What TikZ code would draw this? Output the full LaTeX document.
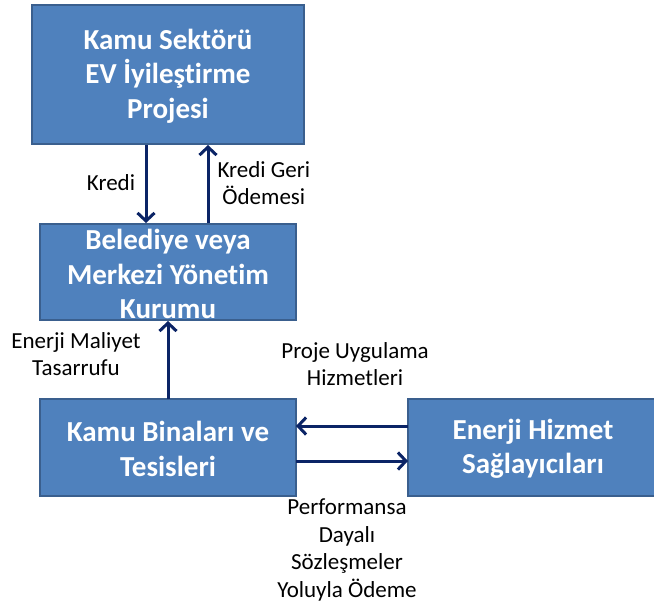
\documentclass[tikz,border=0pt]{standalone}
\usepackage{fontspec}
\setmainfont{Carlito}[Ligatures=NoCommon]
\usetikzlibrary{arrows.meta}
\definecolor{boxfill}{HTML}{4F81BD}
\definecolor{boxline}{HTML}{3A5F8E}
\definecolor{flow}{HTML}{0B2466}
\begin{document}
\begin{tikzpicture}[x=1pt,y=-1pt,
  box/.style={draw=boxline,line width=2.2pt,fill=boxfill},
  boxtext/.style={text=white,font=\fontsize{29}{34.5}\selectfont\bfseries,align=center},
  lbl/.style={font=\fontsize{23}{27.5}\selectfont,align=center,text=black},
  flowarrow/.style={draw=flow,line width=3pt,-{Straight Barb[length=8pt,width=17pt,line width=3pt]}}]
\useasboundingbox (0,0) rectangle (654,608);
\begin{scope}
\clip (0,0) rectangle (654,608);
% boxes
\path[box] (32,5) rectangle (304,144);
\node[boxtext] (proj) at (168,76) {Kamu Sektörü\\EV İyileştirme\\Projesi};
\path[box] (40,224) rectangle (296,320);
\node[boxtext] (bel) at (168,274) {Belediye veya\\Merkezi Yönetim\\Kurumu};
\path[box] (40,399) rectangle (296,496);
\node[boxtext] (kbt) at (168,449) {Kamu Binaları ve\\Tesisleri};
\path[box] (408,399) rectangle (680,496);
\node[boxtext] (ehs) at (533,449) {Enerji Hizmet\\Sağlayıcıları};
\end{scope}
% anchor points on box edges
\coordinate (p1) at (146,145);
\coordinate (b1) at (146,223);
\coordinate (b2) at (208,223);
\coordinate (p2) at (208,145);
\coordinate (k1) at (168,399);
\coordinate (b3) at (168,321);
\coordinate (e1) at (408,426);
\coordinate (k2) at (296,426);
\coordinate (k3) at (296,461);
\coordinate (e2) at (408,461);
% connectors
\draw[flowarrow] (p1) -- (b1);
\draw[flowarrow] (b2) -- (p2);
\draw[flowarrow] (k1) -- (b3);
\draw[flowarrow] (e1) -- (k2);
\draw[flowarrow] (k3) -- (e2);
% labels
\node[lbl] (l1) at (111,183) {Kredi};
\node[lbl,anchor=west] (l2) at (214,183) {Kredi Geri\\Ödemesi};
\node[lbl] (l3) at (76,354) {Enerji Maliyet\\Tasarrufu};
\node[lbl] (l4) at (355,364) {Proje Uygulama\\Hizmetleri};
\node[lbl] (l5) at (347,550) {Performansa\\Dayalı\\Sözleşmeler\\Yoluyla Ödeme};
\end{tikzpicture}
\end{document}
